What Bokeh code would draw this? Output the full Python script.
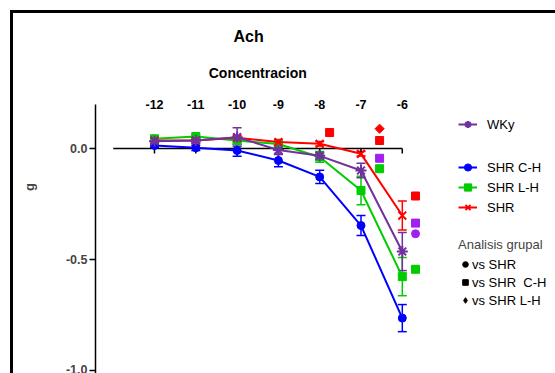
from bokeh.plotting import figure
from bokeh.models import Range1d, ColumnDataSource, Whisker, TeeHead, Legend, LegendItem, FixedTicker, PrintfTickFormatter, CDSView, GroupFilter
from bokeh.core.properties import value
from bokeh.embed import file_html
from bokeh.resources import INLINE

# ---------------- data ----------------
conc = [-12, -11, -10, -9, -8, -7, -6]
tick_labels = ["-12", "-11", "-10", "-9", "-8", "-7", "-6"]

wky = [0.033, 0.036, 0.051, -0.007, -0.033, -0.099, -0.464]
wky_err = [0.012, 0.010, 0.042, 0.020, 0.015, 0.033, 0.086]
shr_ch = [0.014, 0.003, -0.009, -0.054, -0.128, -0.347, -0.764]
shr_ch_err = [0.010, 0.012, 0.026, 0.028, 0.030, 0.045, 0.061]
shr_lh = [0.044, 0.054, 0.036, 0.020, -0.038, -0.189, -0.577]
shr_lh_err = [0.008, 0.008, 0.010, 0.010, 0.024, 0.064, 0.086]
shr = [0.036, 0.036, 0.048, 0.029, 0.021, -0.024, -0.302]
shr_err = [0.008, 0.008, 0.010, 0.012, 0.010, 0.010, 0.065]

# significance symbols: which series, which comparison
sig_x = [-7.76, -6.55, -6.55, -6.55, -6.55, -5.68, -5.68, -5.68, -5.68]
sig_y = [0.072, 0.089, 0.036, -0.044, -0.091, -0.214, -0.336, -0.384, -0.544]
sig_series = ["SHR", "SHR", "SHR", "WKy", "SHR L-H", "SHR", "WKy", "WKy", "SHR L-H"]
sig_test = ["vs SHR  C-H", "vs SHR L-H", "vs SHR  C-H", "vs SHR  C-H", "vs SHR  C-H",
            "vs SHR  C-H", "vs SHR  C-H", "vs SHR", "vs SHR  C-H"]
tests = ["vs SHR", "vs SHR  C-H", "vs SHR L-H"]

y_ticks = [0.0, -0.5, -1.0]
axis_bounds = (-13, -6)

PURPLE = "#7030A0"
BLUE = "#0000FF"
GREEN = "#00CC00"
RED = "#FF0000"
SIG_COLORS = {"SHR": "#FF0000", "WKy": "#A020F0", "SHR L-H": "#00CC00"}
TEST_STYLE = {"vs SHR": ("circle", 0.0, 8), "vs SHR  C-H": ("square", 0.0, 8), "vs SHR L-H": ("square", 0.785, 6.5)}
FONT = "Liberation Sans"
NAN = float("nan")

# ---------------- figure ----------------
p = figure(width=555, height=373,
           x_range=Range1d(-13.4286, -2.2906), y_range=Range1d(-1.0135, 0.6667),
           output_backend="svg", toolbar_location=None, x_axis_location=None,
           min_border_left=95, min_border_right=0, min_border_top=0, min_border_bottom=0,
           background_fill_color=None, border_fill_color=None, outline_line_color=None)
p.styles = {"box-shadow": "inset 10px 10px 0 0 white, inset 13px 13px 0 0 black"}
p.xgrid.visible = False
p.ygrid.visible = False

ax = p.yaxis[0]
ax.ticker = FixedTicker(ticks=y_ticks)
ax.formatter = PrintfTickFormatter(format="%.1f")
ax.bounds = (-1.1, 0.2)
ax.axis_line_width = 1.5
ax.major_tick_line_width = 1.5
ax.major_tick_out = 6
ax.major_tick_in = 0
ax.minor_tick_out = 0
ax.minor_tick_in = 0
ax.major_label_standoff = 2
ax.major_label_text_font = FONT
ax.major_label_text_font_style = "bold"
ax.major_label_text_font_size = "12.5px"
ax.axis_label = "g"
ax.axis_label_text_font = FONT
ax.axis_label_text_font_style = "bold"
ax.axis_label_text_font_size = "13px"
ax.axis_label_standoff = 26

# x axis at y = 0 (line, ticks, labels)
p.segment(x0=[axis_bounds[0]], y0=[0], x1=[axis_bounds[1]], y1=[0], line_color="black", line_width=1.5)
p.segment(x0=conc, y0=[0] * len(conc), x1=conc, y1=[-0.023] * len(conc), line_color="black", line_width=1.5)
p.text(x=conc, y=[0.198] * len(conc), text=tick_labels, text_align="center", text_baseline="middle",
       text_font=value(FONT), text_font_style="bold", text_font_size="12.5px", text_color="black")
p.text(x=[sum(axis_bounds) / 2], y=[0.342], text=["Concentracion"], text_align="center", text_baseline="middle",
       text_font=value(FONT), text_font_style="bold", text_font_size="14px", text_color="black")
p.text(x=[-9.72], y=[0.505], text=["Ach"], text_align="center", text_baseline="middle",
       text_font=value(FONT), text_font_style="bold", text_font_size="16px", text_color="black")

# ---------------- series ----------------
def series(vals, errs, color, marker, size, lw_marker):
    src = ColumnDataSource(dict(x=conc, y=vals,
                                upper=[v + e for v, e in zip(vals, errs)],
                                lower=[v - e for v, e in zip(vals, errs)]))
    w = Whisker(base="x", upper="upper", lower="lower", source=src,
                line_color=color, line_width=1.5,
                upper_head=TeeHead(size=9, line_color=color, line_width=1.5),
                lower_head=TeeHead(size=9, line_color=color, line_width=1.5))
    p.add_layout(w)
    l = p.line("x", "y", source=src, line_color=color, line_width=2)
    s = p.scatter("x", "y", source=src, marker=marker, size=size, fill_color=color,
                  line_color=color, line_width=lw_marker)
    return [l, s]

r_ch = series(shr_ch, shr_ch_err, BLUE, "circle", 8, 1)
r_lh = series(shr_lh, shr_lh_err, GREEN, "square", 8, 1)
r_shr = series(shr, shr_err, RED, "x", 11, 2)
r_wky = series(wky, wky_err, PURPLE, "asterisk", 11, 2)

sig_src = ColumnDataSource(dict(x=sig_x, y=sig_y, test=sig_test,
                                c=[SIG_COLORS[s] for s in sig_series]))
for t in tests:
    mk, ang, sz = TEST_STYLE[t]
    view = CDSView(filter=GroupFilter(column_name="test", group=t))
    p.scatter("x", "y", source=sig_src, view=view, marker=mk, angle=ang, size=sz,
              fill_color="c", line_color="c")

# ---------------- legends ----------------
def make_legend(items, loc, gh, sp, gw, stand, title=None):
    lg = Legend(items=items, location=loc, orientation="vertical",
                border_line_color=None, background_fill_alpha=0, padding=0, margin=0,
                glyph_width=gw, glyph_height=gh, label_height=gh, spacing=sp, label_standoff=stand,
                label_text_font=FONT, label_text_font_size="13px", label_text_color="black")
    if title:
        lg.title = title
        lg.title_text_font = FONT
        lg.title_text_font_size = "13px"
        lg.title_text_font_style = "normal"
        lg.title_standoff = 4
    p.add_layout(lg)

make_legend([LegendItem(label="WKy", renderers=r_wky)], (363, 240), 18, 2, 19, 10)
make_legend([LegendItem(label="SHR C-H", renderers=r_ch),
             LegendItem(label="SHR L-H", renderers=r_lh),
             LegendItem(label="SHR", renderers=r_shr)], (363, 157), 18, 2, 19, 10)

legend_marker = {"vs SHR": "circle", "vs SHR  C-H": "square", "vs SHR L-H": "diamond"}
sym_items = []
for t in tests:
    d = p.scatter(x=[NAN], y=[NAN], marker=legend_marker[t], size=6, fill_color="black", line_color="black")
    sym_items.append(LegendItem(label=t, renderers=[d]))
make_legend(sym_items, (363, 65), 16, 2, 14, 0, title="Analisis grupal")

open("out.html", "w").write(file_html(p, INLINE))
